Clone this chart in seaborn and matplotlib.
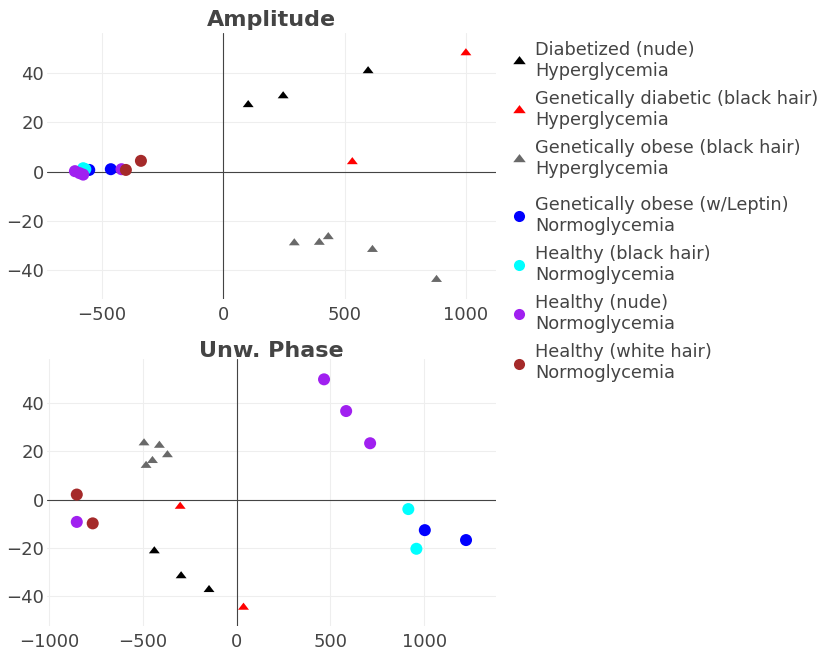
import numpy as np
import pandas as pd
import matplotlib
matplotlib.use("Agg")
import matplotlib.pyplot as plt
from matplotlib.lines import Line2D
import seaborn as sns

# Groups, their glycemia state and colours
groups = [
    "Diabetized (nude)",
    "Genetically diabetic (black hair)",
    "Genetically obese (black hair)",
    "Genetically obese (w/Leptin)",
    "Healthy (black hair)",
    "Healthy (nude)",
    "Healthy (white hair)",
]
conditions = ["Hyperglycemia"] * 3 + ["Normoglycemia"] * 4
colors = ["#000000", "#ff0000", "#696969", "#0000ff", "#00ffff", "#a020f0", "#a52a2a"]

# Amplitude projection
amp_x = {
    groups[0]: [103, 247, 597],
    groups[1]: [532, 1000],
    groups[2]: [293, 396, 433, 615, 879],
    groups[3]: [-463, -552],
    groups[4]: [-577, -568],
    groups[5]: [-611, -592, -577, -419],
    groups[6]: [-401, -339],
}
amp_y = {
    groups[0]: [27.2, 30.8, 41.0],
    groups[1]: [4.0, 48.3],
    groups[2]: [-29.0, -28.8, -26.5, -31.7, -43.9],
    groups[3]: [1.0, 0.7],
    groups[4]: [1.4, 1.0],
    groups[5]: [0.2, -0.6, -1.2, 1.0],
    groups[6]: [0.7, 4.4],
}

# Unwrapped phase projection
phase_x = {
    groups[0]: [-440, -297, -148],
    groups[1]: [-302, 36],
    groups[2]: [-495, -413, -370, -450, -484],
    groups[3]: [1004, 1224],
    groups[4]: [916, 959],
    groups[5]: [466, 584, 712, -854],
    groups[6]: [-854, -769],
}
phase_y = {
    groups[0]: [-21.2, -31.5, -37.2],
    groups[1]: [-2.8, -44.5],
    groups[2]: [23.4, 22.4, 18.5, 16.1, 14.1],
    groups[3]: [-12.6, -16.7],
    groups[4]: [-3.9, -20.3],
    groups[5]: [49.7, 36.6, 23.3, -9.2],
    groups[6]: [2.1, -9.8],
}

x_ticks_amp = [-500, 0, 500, 1000]
x_ticks_phase = [-1000, -500, 0, 500, 1000]
y_ticks = [-40, -20, 0, 20, 40]

# Upward triangle whose anchor sits one third from the base
rt = 2 / np.sqrt(3)
tri = [(-rt, -0.5), (rt, -0.5), (0, 1), (-rt, -0.5)]
marker_map = {g: (tri if c == "Hyperglycemia" else "o") for g, c in zip(groups, conditions)}
palette = dict(zip(groups, colors))


def frame(xs, ys):
    rows = []
    for g in groups:
        for x, y in zip(xs[g], ys[g]):
            rows.append({"group": g, "x": x, "y": y})
    return pd.DataFrame(rows)


sns.set_style("white")
plt.rcParams["font.family"] = ["DejaVu Sans"]
plt.rcParams["axes.unicode_minus"] = True

fig = plt.figure(figsize=(8.25, 6.52), dpi=100)
W, H = 825, 652
ax1 = fig.add_axes([47 / W, 1 - 299 / H, 449 / W, 266 / H])
ax2 = fig.add_axes([47 / W, 1 - 626 / H, 449 / W, 267 / H])

panels = [
    (ax1, frame(amp_x, amp_y), (-726, 1124), (-51.8, 56.4), x_ticks_amp),
    (ax2, frame(phase_x, phase_y), (-1013, 1384), (-52.2, 58.1), x_ticks_phase),
]

for ax, df, xl, yl, xt in panels:
    for g in groups:
        sub = df[df["group"] == g]
        size = 62 if marker_map[g] is tri else 75
        sns.scatterplot(data=sub, x="x", y="y", hue="group", style="group",
                        palette=palette, markers={g: marker_map[g]}, s=size,
                        linewidth=0, alpha=1, legend=False, ax=ax, zorder=3)
    ax.set_xlim(*xl)
    ax.set_ylim(*yl)
    ax.set_xticks(xt)
    ax.set_yticks(y_ticks)
    ax.grid(True, color="#eeeeee", linewidth=0.8, zorder=0)
    ax.set_axisbelow(True)
    ax.axhline(0, color="#444444", linewidth=0.8, zorder=1)
    ax.axvline(0, color="#444444", linewidth=0.8, zorder=1)
    for sp in ax.spines.values():
        sp.set_visible(False)
    ax.tick_params(axis="both", length=0, labelsize=13, labelcolor="#444444")
    ax.tick_params(axis="y", pad=2)
    ax.tick_params(axis="x", pad=5)
    ax.set_xlabel("")
    ax.set_ylabel("")

fig.text(271 / W, 1 - 26 / H, "Amplitude", ha="center", va="baseline",
         fontsize=16, fontweight="bold", color="#444444")
fig.text(271 / W, 1 - 357 / H, "Unw. Phase", ha="center", va="baseline",
         fontsize=16, fontweight="bold", color="#444444")

# Legend, one block per glycemia state
def handles_for(idx):
    hs, ls = [], []
    for i in idx:
        g = groups[i]
        if conditions[i] == "Hyperglycemia":
            h = Line2D([], [], linestyle="none", marker=tri, markersize=9,
                       markerfacecolor=colors[i], markeredgewidth=0)
        else:
            h = Line2D([], [], linestyle="none", marker="o", markersize=8,
                       markerfacecolor=colors[i], markeredgewidth=0)
        hs.append(h)
        ls.append(f"{g}\n{conditions[i]}")
    return hs, ls

leg_kw = dict(loc="upper left", frameon=False, fontsize=12.8, borderpad=0,
              borderaxespad=0, handlelength=1.0, handletextpad=0.42,
              labelspacing=0.58, labelcolor="#444444")
h1, l1 = handles_for([0, 1, 2])
leg1 = fig.legend(h1, l1, bbox_to_anchor=(510 / W, 1 - 41 / H), **leg_kw)
h2, l2 = handles_for([3, 4, 5, 6])
leg2 = fig.legend(h2, l2, bbox_to_anchor=(510 / W, 1 - 196 / H), **leg_kw)

fig.savefig("out.png", dpi=100)
